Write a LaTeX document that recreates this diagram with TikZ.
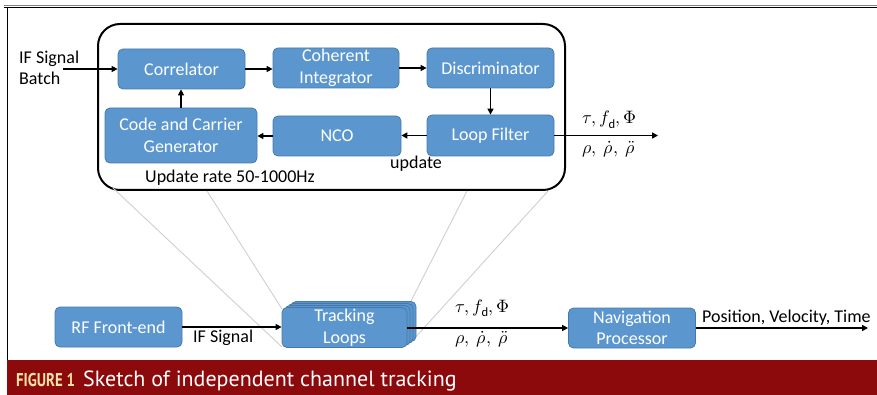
\documentclass[tikz,border=0pt]{standalone}
\usepackage{fontspec}
\usepackage{unicode-math}
\setmainfont{Carlito}
\setmathfont{Latin Modern Math}
\newfontfamily\capfont{PT Sans}
\usetikzlibrary{arrows.meta}
\definecolor{boxblue}{HTML}{5B97CE}
\definecolor{boxedge}{HTML}{4679AA}
\definecolor{bandred}{HTML}{8C0A0C}
\definecolor{figyellow}{HTML}{F8E3A6}
\definecolor{zoomgray}{HTML}{CFCFCF}
\begin{document}
\begin{tikzpicture}[x=1pt,y=-1pt,
  blk/.style={draw=boxedge, line width=0.8pt, fill=boxblue, rounded corners=5pt,
    text=white, font=\fontsize{18}{21.5}\selectfont, align=center, inner sep=0pt},
  lbl/.style={font=\fontsize{18}{21}\selectfont, inner sep=0pt},
  mlbl/.style={font=\fontsize{18}{21}\selectfont, inner sep=0pt},
  arr/.style={-{Triangle[length=6pt,width=6pt]}, line width=1.5pt},
  zoomline/.style={draw=zoomgray, line width=0.9pt},
  container/.style={draw, line width=2pt, rounded corners=22pt, minimum width=467pt, minimum height=166pt, inner sep=0pt}]
\useasboundingbox (0,0) rectangle (877,395);
% frame
\draw[line width=1pt, gray] (4,5.8) -- (877,5.8);
\draw[line width=1.2pt, black] (4,7.3) -- (877,7.3);
\draw[line width=1pt] (7.5,7) -- (7.5,360);
\fill[bandred] (7,360) rectangle (877,395);
\node[anchor=base west, inner sep=0pt, text=figyellow, font=\capfont\bfseries\fontsize{18.5}{20}\selectfont] (fig) at (16,386) {\scalebox{0.8}[1]{FIGURE 1}};
\node[anchor=base west, inner sep=0pt, text=white, font=\capfont\fontsize{22}{26}\selectfont] (cap) at (83,386) {Sketch of independent channel tracking};

% container
\node[container] (tl) at (331.5,107) {};
\node[blk, minimum width=127pt, minimum height=40pt] (corr) at (181.5,69) {Correlator};
\node[blk, minimum width=126pt, minimum height=40pt] (coh) at (336,68) {Coherent\\Integrator};
\node[blk, minimum width=127pt, minimum height=40pt] (disc) at (490.5,68) {Discriminator};
\node[blk, minimum width=127pt, minimum height=41pt] (loop) at (490.5,135.5) {Loop Filter};
\node[blk, minimum width=128pt, minimum height=40pt] (nco) at (337,136) {NCO};
\node[blk, minimum width=152pt, minimum height=55pt] (gen) at (181,135.5) {Code and Carrier\\Generator};

\node[lbl, align=left, anchor=west] (ifb) at (19,68) {IF Signal\\Batch};
\coordinate (ifs) at (63,69);
\draw[arr] (ifs) -- (corr.west);
\draw[arr] (corr.east) -- (coh.west |- corr.east);
\draw[arr] (coh.east) -- (disc.west);
\draw[arr] (disc.south) -- (loop.north);
\draw[arr] (loop.west) -- (nco.east |- loop.west);
\draw[arr] (nco.west) -- (gen.east |- nco.west);
\draw[arr] (gen.north) -- (gen.north |- corr.south);
\coordinate (out1) at (658,135);
\draw[arr] (loop.east) -- (out1 |- loop.east);
\node[mlbl, anchor=base west] (m1a) at (582,124) {$\tau, f_{\mathrm{d}}, \Phi$};
\node[mlbl, anchor=base west] (m1b) at (582,154) {$\rho,\ \dot{\rho},\ \ddot{\rho}$};
\node[lbl, anchor=base] (upd) at (416,169) {update};
\node[lbl, anchor=base west] (rate) at (145,183) {Update rate 50-1000Hz};

% zoom lines
\coordinate (z1) at (113,188);
\coordinate (z2) at (207,191);
\coordinate (z3) at (467,191);
\coordinate (z4) at (548,191);
\draw[zoomline] (z1) -- (282,347);
\draw[zoomline] (z2) -- (282,309);
\draw[zoomline] (z3) -- (410,303);
\draw[zoomline] (z4) -- (413,340);

% bottom chain
\node[blk, minimum width=127pt, minimum height=40pt] (rf) at (118.5,327) {RF Front-end};
\node[blk, minimum width=125pt, minimum height=40pt] (trk3) at (353.5,321.5) {};
\node[blk, minimum width=125pt, minimum height=40pt] (trk2) at (350.5,323.5) {};
\node[blk, minimum width=125pt, minimum height=40pt] (trk1) at (347.5,325.5) {};
\node[blk, minimum width=125pt, minimum height=40pt] (trk) at (344.5,327.5) {Tracking\\Loops};
\node[blk, minimum width=127pt, minimum height=40pt] (nav) at (632,328) {Navigation\\Processor};
\draw[arr] (rf.east) -- (trk.west |- rf.east);
\node[lbl, anchor=base west] (ifl) at (193,342) {IF Signal};
\draw[arr] (trk.east |- nav.west) -- (nav.west);
\node[mlbl, anchor=base west] (m2a) at (455,312) {$\tau, f_{\mathrm{d}}, \Phi$};
\node[mlbl, anchor=base west] (m2b) at (455,343) {$\rho,\ \dot{\rho},\ \ddot{\rho}$};
\coordinate (out2) at (868,328);
\draw[arr] (nav.east) -- (out2);
\node[lbl, anchor=base west] (pvt) at (702,322) {Position, Velocity, Time};
\end{tikzpicture}
\end{document}
